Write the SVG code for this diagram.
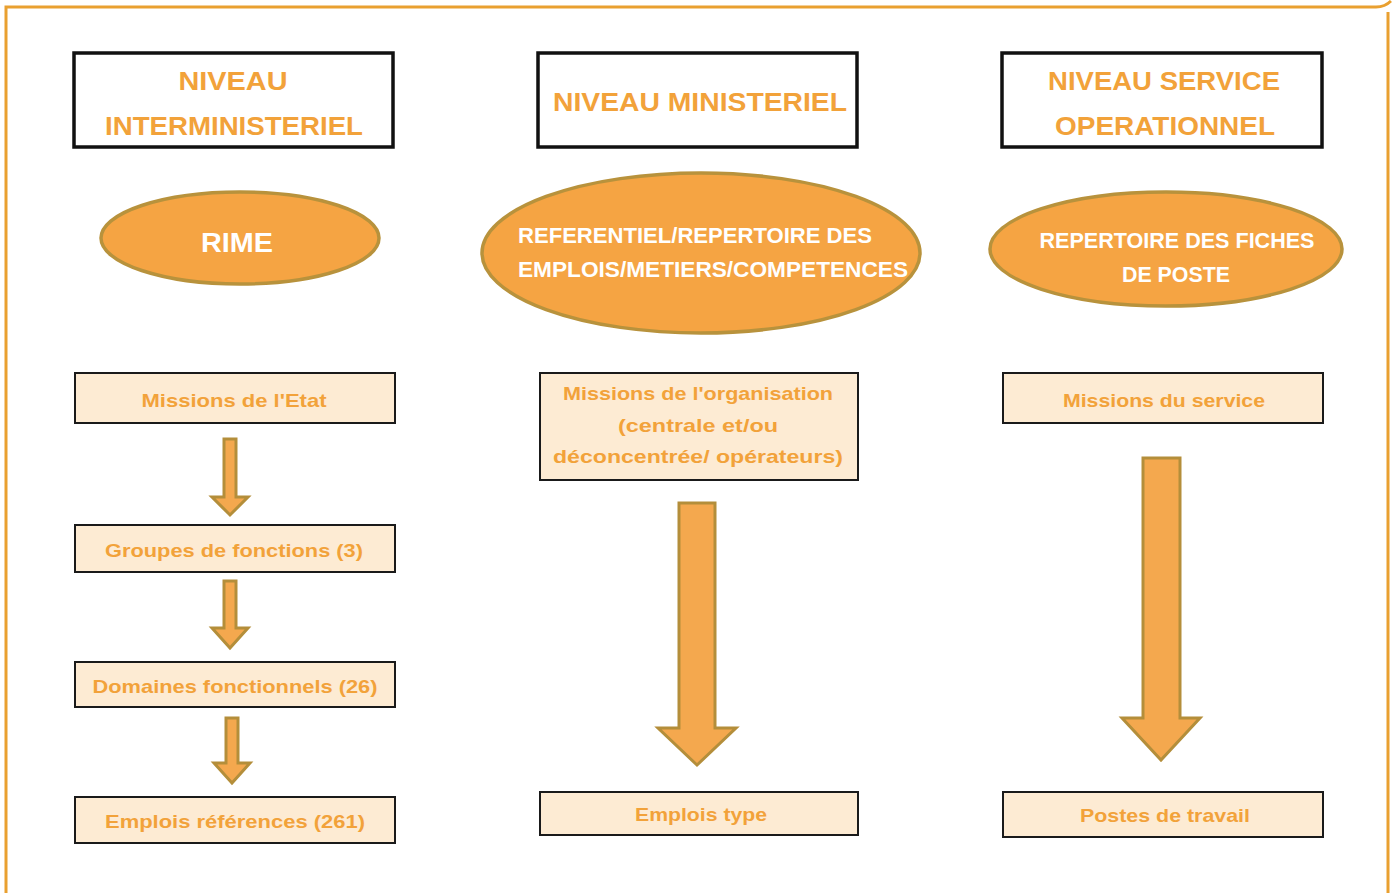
<svg xmlns="http://www.w3.org/2000/svg" width="1392" height="893" viewBox="0 0 1392 893">
<defs>
<style>
.frame{fill:none;stroke:#E9A030;stroke-width:3}
.hdr{fill:#fff;stroke:#111;stroke-width:3.5}
.ell{fill:#F5A443;stroke:#B8923C;stroke-width:3.5}
.box{fill:#FDEBD3;stroke:#1a1a1a;stroke-width:2}
.arr{fill:#F4A84E;stroke:#B48E3A;stroke-width:3;stroke-linejoin:miter}
text{font-family:"Liberation Sans",Arial,sans-serif;font-weight:bold;text-anchor:middle}
.ht{fill:#F2A23A;font-size:25px}
.et{fill:#fff;font-size:22px}
.bt{fill:#F2A23A;font-size:19px}
</style>
</defs>
<rect width="1392" height="893" fill="#fff"/>
<path class="frame" d="M6,893 V7 H1376 Q1385,7 1391,1"/>
<path class="frame" d="M1388,12 V893"/>

<g id="hdr-inter">
<rect class="hdr" x="74" y="53" width="319" height="94"/>
<text class="ht" x="233" y="90" textLength="109" lengthAdjust="spacingAndGlyphs">NIVEAU</text>
<text class="ht" x="234" y="135" textLength="258" lengthAdjust="spacingAndGlyphs">INTERMINISTERIEL</text>
</g>
<g id="hdr-min">
<rect class="hdr" x="538" y="53" width="319" height="94"/>
<text class="ht" x="700" y="111" textLength="294" lengthAdjust="spacingAndGlyphs">NIVEAU MINISTERIEL</text>
</g>
<g id="hdr-serv">
<rect class="hdr" x="1002" y="53" width="320" height="94"/>
<text class="ht" x="1164" y="90" textLength="232" lengthAdjust="spacingAndGlyphs">NIVEAU SERVICE</text>
<text class="ht" x="1165" y="135" textLength="220" lengthAdjust="spacingAndGlyphs">OPERATIONNEL</text>
</g>

<g id="ell-rime">
<ellipse class="ell" cx="240" cy="238" rx="139" ry="46"/>
<text class="et" x="237" y="252" style="font-size:27px" textLength="72" lengthAdjust="spacingAndGlyphs">RIME</text>
</g>
<g id="ell-ref">
<ellipse class="ell" cx="701" cy="253" rx="219" ry="80"/>
<text class="et" x="518" y="243" style="text-anchor:start" textLength="354" lengthAdjust="spacingAndGlyphs">REFERENTIEL/REPERTOIRE DES</text>
<text class="et" x="518" y="277" style="text-anchor:start" textLength="390" lengthAdjust="spacingAndGlyphs">EMPLOIS/METIERS/COMPETENCES</text>
</g>
<g id="ell-fiches">
<ellipse class="ell" cx="1166" cy="249" rx="176" ry="57"/>
<text class="et" x="1177" y="248" textLength="275" lengthAdjust="spacingAndGlyphs">REPERTOIRE DES FICHES</text>
<text class="et" x="1176" y="282" textLength="108" lengthAdjust="spacingAndGlyphs">DE POSTE</text>
</g>

<g id="box-missions-etat">
<rect class="box" x="75" y="373" width="320" height="50"/>
<text class="bt" x="234" y="407" textLength="185" lengthAdjust="spacingAndGlyphs">Missions de l'Etat</text>
</g>
<g id="box-groupes">
<rect class="box" x="75" y="525" width="320" height="47"/>
<text class="bt" x="234" y="557" textLength="258" lengthAdjust="spacingAndGlyphs">Groupes de fonctions (3)</text>
</g>
<g id="box-domaines">
<rect class="box" x="75" y="662" width="320" height="45"/>
<text class="bt" x="235" y="693" textLength="285" lengthAdjust="spacingAndGlyphs">Domaines fonctionnels (26)</text>
</g>
<g id="box-emplois-ref">
<rect class="box" x="75" y="797" width="320" height="46"/>
<text class="bt" x="235" y="828" textLength="260" lengthAdjust="spacingAndGlyphs">Emplois références (261)</text>
</g>

<g id="box-missions-org">
<rect class="box" x="540" y="373" width="318" height="107"/>
<text class="bt" x="698" y="400" textLength="270" lengthAdjust="spacingAndGlyphs">Missions de l'organisation</text>
<text class="bt" x="698" y="432" textLength="160" lengthAdjust="spacingAndGlyphs">(centrale et/ou</text>
<text class="bt" x="698" y="463" textLength="290" lengthAdjust="spacingAndGlyphs">déconcentrée/ opérateurs)</text>
</g>
<g id="box-emplois-type">
<rect class="box" x="540" y="792" width="318" height="43"/>
<text class="bt" x="701" y="821" textLength="132" lengthAdjust="spacingAndGlyphs">Emplois type</text>
</g>

<g id="box-missions-serv">
<rect class="box" x="1003" y="373" width="320" height="50"/>
<text class="bt" x="1164" y="407" textLength="202" lengthAdjust="spacingAndGlyphs">Missions du service</text>
</g>
<g id="box-postes">
<rect class="box" x="1003" y="792" width="320" height="45"/>
<text class="bt" x="1165" y="822" textLength="170" lengthAdjust="spacingAndGlyphs">Postes de travail</text>
</g>

<g id="connectors">
<path class="arr" d="M224,439 H236 V497 H248 L230,515 L212,497 H224 Z"/>
<path class="arr" d="M224,581 H236 V628 H248 L230,648 L212,628 H224 Z"/>
<path class="arr" d="M226,718 H238 V763 H250 L232,783 L214,763 H226 Z"/>
<path class="arr" d="M679,503 H715 V728 H736 L697,765 L658,728 H679 Z"/>
<path class="arr" d="M1143,458 H1180 V718 H1200 L1161,760 L1122,718 H1143 Z"/>
</g>
</svg>
